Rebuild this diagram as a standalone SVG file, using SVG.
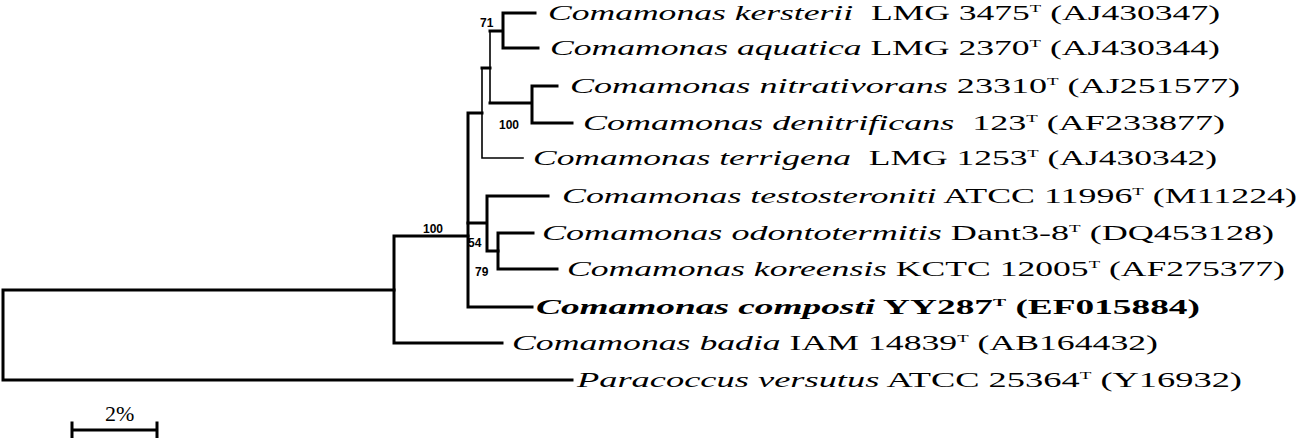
<svg xmlns="http://www.w3.org/2000/svg" width="1302" height="438" viewBox="0 0 1302 438">
<style>
.b{stroke:#000;stroke-width:3;fill:none;stroke-linecap:square}
.t{stroke-width:1.6}
.lab{font-family:"Liberation Serif","Times New Roman",serif;font-size:21px;fill:#000;white-space:pre}
.it{font-style:italic}
.bold{font-weight:bold}
.sup{font-size:11px}
.bs{font-family:"Liberation Sans",Arial,sans-serif;font-size:12px;font-weight:bold;fill:#000}
.sc{font-family:"Liberation Serif","Times New Roman",serif;font-size:22px;fill:#000}
</style>
<rect width="1302" height="438" fill="#fff"/>
<g id="connectors">
<path class="b" d="M3,290 V380 M3,290 H394 M3,380 H572"/>
<path class="b" d="M394,236 V343 M394,343 H502 M394,236 H468"/>
<path class="b" d="M468,113 V307 M468,307 H532 M468,113 H482"/>
<path class="b t" d="M482,68 V158 M482,158 H523"/>
<path class="b" d="M482,68 H490"/>
<path class="b t" d="M490,31 V103"/>
<path class="b" d="M490,31 H503 M503,13 V48 M503,13 H535 M503,48 H538"/>
<path class="b" d="M490,103 H532 M532,86 V123 M532,86 H557 M532,123 H572"/>
<path class="b" d="M468,223 H487 M487,196 V251 M487,196 H548 M487,251 H498"/>
<path class="b" d="M498,233 V269 M498,233 H533 M498,269 H557"/>
</g>
<g id="bootstrap">
<text class="bs" x="480" y="27">71</text>
<text class="bs" x="499" y="129">100</text>
<text class="bs" x="423" y="233">100</text>
<text class="bs" x="468" y="247">54</text>
<text class="bs" x="475" y="276">79</text>
</g>
<g id="n1"><text class="lab" x="548" y="20" textLength="672" lengthAdjust="spacingAndGlyphs"><tspan class="it">Comamonas kersterii</tspan>  LMG 3475<tspan class="sup" dy="-8">T</tspan><tspan dy="8"> (AJ430347)</tspan></text></g>
<g id="n2"><text class="lab" x="550" y="55" textLength="670" lengthAdjust="spacingAndGlyphs"><tspan class="it">Comamonas aquatica</tspan> LMG 2370<tspan class="sup" dy="-8">T</tspan><tspan dy="8"> (AJ430344)</tspan></text></g>
<g id="n3"><text class="lab" x="570" y="93" textLength="670" lengthAdjust="spacingAndGlyphs"><tspan class="it">Comamonas nitrativorans</tspan> 23310<tspan class="sup" dy="-8">T</tspan><tspan dy="8"> (AJ251577)</tspan></text></g>
<g id="n4"><text class="lab" x="583" y="130" textLength="642" lengthAdjust="spacingAndGlyphs"><tspan class="it">Comamonas denitrificans</tspan>  123<tspan class="sup" dy="-8">T</tspan><tspan dy="8"> (AF233877)</tspan></text></g>
<g id="n5"><text class="lab" x="533" y="165" textLength="684" lengthAdjust="spacingAndGlyphs"><tspan class="it">Comamonas terrigena</tspan>  LMG 1253<tspan class="sup" dy="-8">T</tspan><tspan dy="8"> (AJ430342)</tspan></text></g>
<g id="n6"><text class="lab" x="562" y="203" textLength="735" lengthAdjust="spacingAndGlyphs"><tspan class="it">Comamonas testosteroniti</tspan> ATCC 11996<tspan class="sup" dy="-8">T</tspan><tspan dy="8"> (M11224)</tspan></text></g>
<g id="n7"><text class="lab" x="542" y="240" textLength="732" lengthAdjust="spacingAndGlyphs"><tspan class="it">Comamonas odontotermitis</tspan> Dant3-8<tspan class="sup" dy="-8">T</tspan><tspan dy="8"> (DQ453128)</tspan></text></g>
<g id="n8"><text class="lab" x="567" y="276" textLength="718" lengthAdjust="spacingAndGlyphs"><tspan class="it">Comamonas koreensis</tspan> KCTC 12005<tspan class="sup" dy="-8">T</tspan><tspan dy="8"> (AF275377)</tspan></text></g>
<g id="n9"><text class="lab bold" x="536" y="314" textLength="664" lengthAdjust="spacingAndGlyphs"><tspan class="it">Comamonas composti</tspan> YY287<tspan class="sup" dy="-8">T</tspan><tspan dy="8"> (EF015884)</tspan></text></g>
<g id="n10"><text class="lab" x="512" y="350" textLength="646" lengthAdjust="spacingAndGlyphs"><tspan class="it">Comamonas badia</tspan> IAM 14839<tspan class="sup" dy="-8">T</tspan><tspan dy="8"> (AB164432)</tspan></text></g>
<g id="n11"><text class="lab" x="577" y="387" textLength="665" lengthAdjust="spacingAndGlyphs"><tspan class="it">Paracoccus versutus</tspan> ATCC 25364<tspan class="sup" dy="-8">T</tspan><tspan dy="8"> (Y16932)</tspan></text></g>
<g id="scale">
<path class="b" d="M72,430 H157 M72,423 V438 M157,423 V438"/>
<text class="sc" x="105" y="421">2%</text>
</g>
</svg>
